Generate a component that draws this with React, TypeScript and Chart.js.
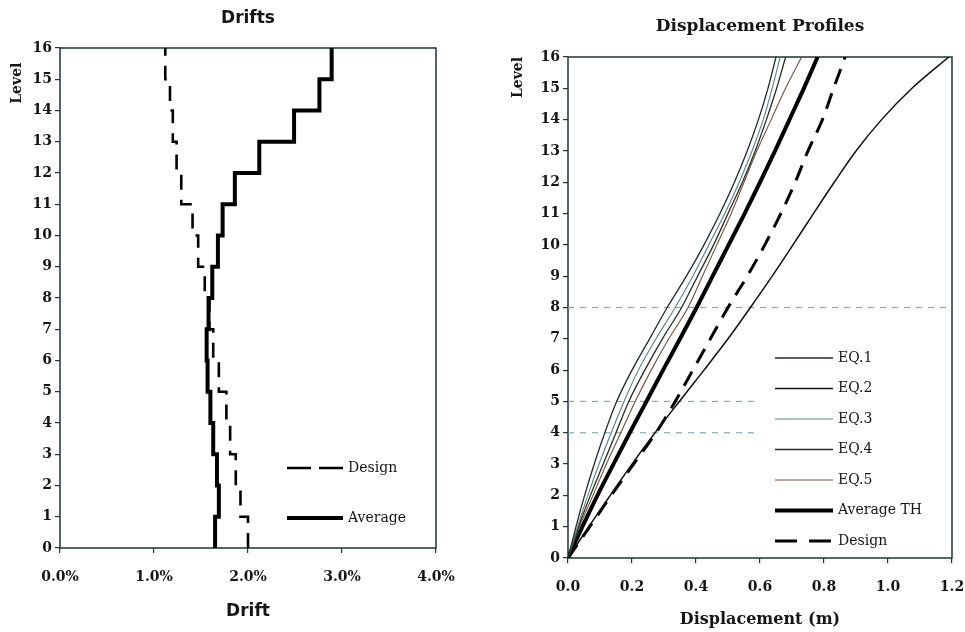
import React, { useEffect, useRef } from 'react';
import { Chart, registerables } from 'chart.js';

Chart.register(...registerables);

// ---------- data ----------
const levels = [0, 1, 2, 3, 4, 5, 6, 7, 8, 9, 10, 11, 12, 13, 14, 15, 16];

// story drift (%) for stories 0-1, 1-2, ..., 15-16
const designDrift = [2.0, 1.92, 1.87, 1.81, 1.77, 1.69, 1.63, 1.59, 1.54, 1.47, 1.41, 1.29, 1.24, 1.2, 1.17, 1.12];
const averageDrift = [1.65, 1.69, 1.67, 1.63, 1.6, 1.57, 1.56, 1.58, 1.62, 1.68, 1.73, 1.86, 2.12, 2.49, 2.76, 2.89];
const driftTickLabels = ['0.0%', '1.0%', '2.0%', '3.0%', '4.0%'];

// displacement (m) at levels 0..16
const eq1 = [0, 0.025, 0.052, 0.082, 0.115, 0.152, 0.2, 0.255, 0.31, 0.37, 0.425, 0.475, 0.52, 0.56, 0.595, 0.625, 0.65];
const eq2 = [0, 0.065, 0.132, 0.2, 0.272, 0.348, 0.425, 0.5, 0.57, 0.638, 0.703, 0.767, 0.832, 0.9, 0.98, 1.075, 1.19];
const eq3 = [0, 0.03, 0.062, 0.097, 0.135, 0.175, 0.22, 0.275, 0.335, 0.39, 0.44, 0.49, 0.535, 0.575, 0.61, 0.638, 0.663];
const eq4 = [0, 0.033, 0.07, 0.11, 0.15, 0.19, 0.24, 0.295, 0.355, 0.405, 0.455, 0.5, 0.545, 0.585, 0.62, 0.652, 0.68];
const eq5 = [0, 0.036, 0.078, 0.12, 0.165, 0.21, 0.26, 0.315, 0.375, 0.42, 0.465, 0.51, 0.55, 0.59, 0.635, 0.68, 0.73];
const averageTH = [0, 0.045, 0.092, 0.142, 0.193, 0.245, 0.297, 0.35, 0.402, 0.452, 0.502, 0.552, 0.6, 0.647, 0.692, 0.737, 0.78];
const designDisp = [0, 0.068, 0.135, 0.205, 0.275, 0.335, 0.39, 0.445, 0.5, 0.56, 0.615, 0.665, 0.71, 0.75, 0.795, 0.83, 0.866];
const dispTickLabels = ['0.0', '0.2', '0.4', '0.6', '0.8', '1.0', '1.2'];

// dashed reference lines on the displacement chart
const refLevels = [8, 5, 4];
const refEnds = [1.2, 0.6, 0.6];

// ---------- styling helpers ----------
const TEXT = '#151515';
const FRAME = '#1d3636';
const tickFont = { family: 'DejaVu Serif', size: 14, weight: 'bold' as const };

function framePlugin() {
  return {
    id: 'frame',
    beforeDatasetsDraw(chart: any) {
      const { ctx, chartArea: a } = chart;
      ctx.save();
      ctx.strokeStyle = FRAME;
      ctx.lineWidth = 1.5;
      ctx.strokeRect(a.left, a.top, a.right - a.left, a.bottom - a.top);
      ctx.restore();
    },
  };
}

type LegendCfg = {
  indices: number[];
  x0: number;
  x1: number;
  tx: number;
  top: number;
  gap: number;
  dashes?: Record<number, number[]>;
};

function insideLegendPlugin(cfg: LegendCfg) {
  return {
    id: 'insideLegend',
    afterDatasetsDraw(chart: any) {
      const { ctx, chartArea: a } = chart;
      ctx.save();
      cfg.indices.forEach((di, i) => {
        const ds = chart.data.datasets[di];
        const y = a.top + cfg.top + i * cfg.gap;
        ctx.beginPath();
        const dash = (cfg.dashes && cfg.dashes[di]) || ds.borderDash || [];
        ctx.setLineDash(dash);
        ctx.lineWidth = ds.borderWidth;
        ctx.strokeStyle = ds.borderColor;
        ctx.moveTo(a.left + cfg.x0, y);
        ctx.lineTo(a.left + cfg.x1, y);
        ctx.stroke();
        ctx.setLineDash([]);
        ctx.fillStyle = TEXT;
        ctx.font = '14px "DejaVu Serif"';
        ctx.textBaseline = 'middle';
        ctx.textAlign = 'left';
        ctx.fillText(ds.label, a.left + cfg.tx, y);
      });
      ctx.restore();
    },
  };
}

const stepPoints = (drifts: number[]) => [
  ...drifts.map((d, i) => ({ x: d, y: levels[i] })),
  { x: drifts[drifts.length - 1], y: levels[drifts.length] },
];

const profilePoints = (disp: number[]) => disp.map((d, i) => ({ x: d, y: levels[i] }));

function baseAxis(extra: any) {
  return {
    type: 'linear',
    grid: { display: true, drawOnChartArea: false, drawTicks: true, tickLength: 5, tickColor: FRAME, lineWidth: 1.2 },
    border: { display: false },
    ...extra,
  };
}

function DriftChart() {
  const ref = useRef<HTMLCanvasElement>(null);
  useEffect(() => {
    if (!ref.current) return;
    const chart = new Chart(ref.current, {
      type: 'scatter',
      data: {
        datasets: [
          {
            label: 'Design',
            data: stepPoints(designDrift),
            showLine: true,
            stepped: 'after',
            borderColor: '#000',
            borderWidth: 2.6,
            borderDash: [15, 10],
            pointRadius: 0,
            fill: false,
          },
          {
            label: 'Average',
            data: stepPoints(averageDrift),
            showLine: true,
            stepped: 'after',
            borderColor: '#000',
            borderWidth: 4,
            pointRadius: 0,
            fill: false,
          },
        ],
      } as any,
      options: {
        responsive: false,
        animation: false,
        events: [],
        layout: { padding: { left: 0, right: 44, top: 0, bottom: 0 } },
        plugins: {
          legend: { display: false },
          tooltip: { enabled: false },
          title: {
            display: true,
            text: 'Drifts',
            color: TEXT,
            fullSize: false,
            font: { family: 'DejaVu Sans', size: 17, weight: 'bold' },
            padding: { top: 8, bottom: 19.6 },
          },
        },
        scales: {
          x: baseAxis({
            min: 0,
            max: 4,
            ticks: {
              stepSize: 1,
              color: TEXT,
              font: tickFont,
              padding: 16,
              callback: (v: any) => driftTickLabels[Math.round(Number(v))],
            },
            title: {
              display: true,
              text: 'Drift',
              color: TEXT,
              font: { family: 'DejaVu Sans', size: 17, weight: 'bold' },
              padding: { top: 0, bottom: 10 },
            },
            afterFit: (s: any) => {
              s.height = 84;
              s.paddingLeft = 0;
              s.paddingRight = 0;
            },
          }),
          y: baseAxis({
            min: 0,
            max: 16,
            ticks: { stepSize: 1, autoSkip: false, color: TEXT, font: tickFont, padding: 3 },
            title: {
              display: true,
              text: 'Level   ',
              align: 'end',
              color: TEXT,
              font: { family: 'DejaVu Serif', size: 14, weight: 'bold' },
              padding: { top: 9, bottom: 0 },
            },
            afterFit: (s: any) => {
              s.width = 60;
            },
          }),
        },
      } as any,
      plugins: [
        framePlugin(),
        insideLegendPlugin({ indices: [0, 1], x0: 227, x1: 283, tx: 288, top: 420, gap: 50, dashes: { 0: [24, 8] } }),
      ],
    });
    return () => chart.destroy();
  }, []);
  return <canvas ref={ref} width={480} height={632} style={{ display: 'block' }} />;
}

function DisplacementChart() {
  const ref = useRef<HTMLCanvasElement>(null);
  useEffect(() => {
    if (!ref.current) return;
    const line = (label: string, disp: number[], color: string, width: number, dash?: number[]) => ({
      label,
      data: profilePoints(disp),
      showLine: true,
      cubicInterpolationMode: 'monotone',
      borderColor: color,
      borderWidth: width,
      borderDash: dash || [],
      pointRadius: 0,
      fill: false,
    });
    const refs = refLevels.map((lv, i) => ({
      label: '',
      data: [
        { x: 0, y: lv },
        { x: refEnds[i], y: lv },
      ],
      showLine: true,
      borderColor: '#7fa9b8',
      borderWidth: 1.2,
      borderDash: [6, 6],
      pointRadius: 0,
      fill: false,
    }));
    const chart = new Chart(ref.current, {
      type: 'scatter',
      data: {
        datasets: [
          line('EQ.1', eq1, '#1c2b2b', 1.3),
          line('EQ.2', eq2, '#111111', 1.5),
          line('EQ.3', eq3, '#55827e', 1.1),
          line('EQ.4', eq4, '#2b2a22', 1.3),
          line('EQ.5', eq5, '#6e5040', 1.1),
          line('Average TH', averageTH, '#000000', 4),
          line('Design', designDisp, '#000000', 3, [16, 10]),
          ...refs,
        ],
      } as any,
      options: {
        responsive: false,
        animation: false,
        events: [],
        layout: { padding: { left: 0, right: 13, top: 0, bottom: 0 } },
        plugins: {
          legend: { display: false },
          tooltip: { enabled: false },
          title: {
            display: true,
            text: 'Displacement Profiles',
            color: TEXT,
            fullSize: false,
            font: { family: 'DejaVu Serif', size: 17, weight: 'bold' },
            padding: { top: 16, bottom: 20.6 },
          },
        },
        scales: {
          x: baseAxis({
            min: 0,
            max: 1.2,
            ticks: {
              stepSize: 0.2,
              color: TEXT,
              font: tickFont,
              padding: 16,
              callback: (v: any) => dispTickLabels[Math.round(Number(v) / 0.2)],
            },
            title: {
              display: true,
              text: 'Displacement (m)',
              color: TEXT,
              font: { family: 'DejaVu Serif', size: 16, weight: 'bold' },
              padding: { top: 0, bottom: 2.4 },
            },
            afterFit: (s: any) => {
              s.height = 74;
              s.paddingLeft = 0;
              s.paddingRight = 0;
            },
          }),
          y: baseAxis({
            min: 0,
            max: 16,
            ticks: { stepSize: 1, autoSkip: false, color: TEXT, font: tickFont, padding: 3 },
            title: {
              display: true,
              text: 'Level',
              align: 'end',
              color: TEXT,
              font: { family: 'DejaVu Serif', size: 14, weight: 'bold' },
              padding: { top: 19.6, bottom: 0 },
            },
            afterFit: (s: any) => {
              s.width = 78;
            },
          }),
        },
      } as any,
      plugins: [
        framePlugin(),
        insideLegendPlugin({
          indices: [0, 1, 2, 3, 4, 5, 6],
          x0: 207,
          x1: 265,
          tx: 270,
          top: 301,
          gap: 30.5,
          dashes: { 6: [22, 12] },
        }),
      ],
    });
    return () => chart.destroy();
  }, []);
  return <canvas ref={ref} width={475} height={632} style={{ display: 'block' }} />;
}

export default function App() {
  return (
    <div style={{ position: 'fixed', left: 0, top: 0, width: 965, height: 632, background: '#fff', overflow: 'hidden' }}>
      <div style={{ position: 'absolute', left: 0, top: 0 }}>
        <DriftChart />
      </div>
      <div style={{ position: 'absolute', left: 490, top: 0 }}>
        <DisplacementChart />
      </div>
    </div>
  );
}
